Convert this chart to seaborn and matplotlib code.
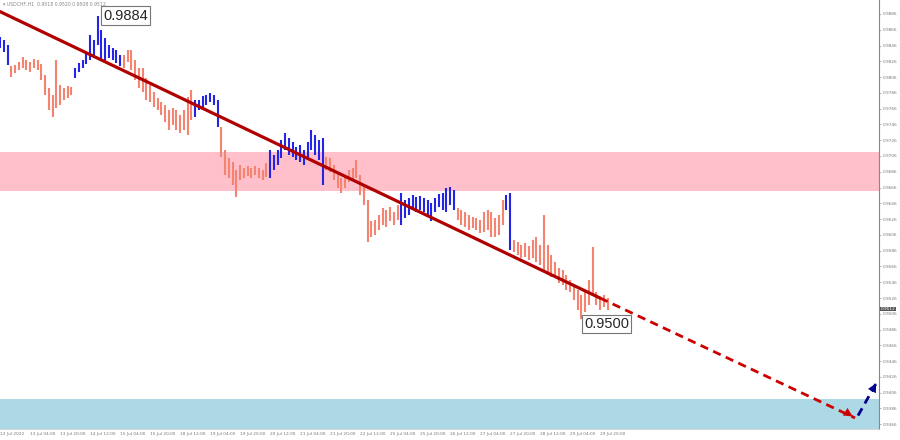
import matplotlib
matplotlib.use('Agg')
import matplotlib.pyplot as plt
import seaborn as sns
import numpy as np

# USDCHF H1, sampled every 2 bars (high / low of each sample)
HIGH = [0.9857, 0.9853, 0.9847, 0.9820, 0.9821, 0.9825, 0.9831, 0.9828, 0.9825, 0.9829,
        0.9828, 0.9823, 0.9809, 0.9792, 0.9783, 0.9828, 0.9796, 0.9792, 0.9795, 0.9793,
        0.9818, 0.9824, 0.9828, 0.9838, 0.9859, 0.9853, 0.9884, 0.9866, 0.9856, 0.9847,
        0.9843, 0.9840, 0.9834, 0.9834, 0.9840, 0.9840, 0.9828, 0.9818, 0.9818, 0.9805,
        0.9796, 0.9787, 0.9780, 0.9774, 0.9771, 0.9764, 0.9767, 0.9764, 0.9758, 0.9764,
        0.9781, 0.9790, 0.9777, 0.9777, 0.9782, 0.9783, 0.9786, 0.9783, 0.9777, 0.9743,
        0.9714, 0.9704, 0.9698, 0.9688, 0.9695, 0.9691, 0.9693, 0.9691, 0.9693, 0.9691,
        0.9688, 0.9697, 0.9714, 0.9707, 0.9714, 0.9726, 0.9735, 0.9729, 0.9724, 0.9717,
        0.9720, 0.9714, 0.9724, 0.9739, 0.9733, 0.9726, 0.9729, 0.9705, 0.9704, 0.9695,
        0.9686, 0.9678, 0.9682, 0.9688, 0.9691, 0.9701, 0.9682, 0.9669, 0.9650, 0.9623,
        0.9625, 0.9631, 0.9640, 0.9638, 0.9641, 0.9635, 0.9644, 0.9659, 0.9650, 0.9653,
        0.9657, 0.9654, 0.9655, 0.9653, 0.9650, 0.9646, 0.9653, 0.9658, 0.9659, 0.9666,
        0.9667, 0.9663, 0.9640, 0.9638, 0.9635, 0.9631, 0.9629, 0.9628, 0.9625, 0.9635,
        0.9638, 0.9635, 0.9628, 0.9631, 0.9650, 0.9657, 0.9659, 0.9600, 0.9597, 0.9593,
        0.9596, 0.9592, 0.9600, 0.9603, 0.9593, 0.9631, 0.9593, 0.9581, 0.9572, 0.9564,
        0.9561, 0.9555, 0.9549, 0.9543, 0.9536, 0.9530, 0.9536, 0.9549, 0.9591, 0.9534,
        0.9527, 0.9530, 0.9526]
LOW = [0.9843, 0.9838, 0.9821, 0.9806, 0.9811, 0.9815, 0.9818, 0.9815, 0.9812, 0.9818,
       0.9815, 0.9802, 0.9783, 0.9764, 0.9755, 0.9767, 0.9771, 0.9777, 0.9780, 0.9783,
       0.9805, 0.9812, 0.9818, 0.9823, 0.9828, 0.9834, 0.9847, 0.9828, 0.9825, 0.9830,
       0.9828, 0.9824, 0.9820, 0.9818, 0.9825, 0.9815, 0.9802, 0.9792, 0.9787, 0.9777,
       0.9774, 0.9768, 0.9764, 0.9758, 0.9749, 0.9739, 0.9745, 0.9739, 0.9735, 0.9739,
       0.9733, 0.9752, 0.9755, 0.9764, 0.9768, 0.9771, 0.9774, 0.9771, 0.9743, 0.9705,
       0.9682, 0.9678, 0.9669, 0.9654, 0.9676, 0.9678, 0.9681, 0.9678, 0.9682, 0.9678,
       0.9676, 0.9680, 0.9678, 0.9688, 0.9695, 0.9704, 0.9714, 0.9707, 0.9705, 0.9701,
       0.9698, 0.9695, 0.9701, 0.9714, 0.9707, 0.9701, 0.9669, 0.9688, 0.9686, 0.9676,
       0.9666, 0.9659, 0.9666, 0.9673, 0.9676, 0.9678, 0.9657, 0.9644, 0.9597, 0.9603,
       0.9606, 0.9612, 0.9619, 0.9616, 0.9623, 0.9619, 0.9625, 0.9619, 0.9628, 0.9631,
       0.9638, 0.9635, 0.9638, 0.9635, 0.9631, 0.9623, 0.9635, 0.9641, 0.9638, 0.9635,
       0.9644, 0.9638, 0.9625, 0.9619, 0.9616, 0.9612, 0.9615, 0.9612, 0.9608, 0.9610,
       0.9612, 0.9603, 0.9603, 0.9606, 0.9619, 0.9638, 0.9587, 0.9584, 0.9581, 0.9577,
       0.9578, 0.9574, 0.9577, 0.9572, 0.9568, 0.9561, 0.9555, 0.9553, 0.9551, 0.9545,
       0.9543, 0.9536, 0.9534, 0.9524, 0.9511, 0.9500, 0.9508, 0.9517, 0.9530, 0.9517,
       0.9511, 0.9514, 0.9511]
UP_WAVES = [(0, 2), (20, 32), (52, 58), (72, 86), (107, 121), (135, 136)]  # inclusive

TIME_LABELS = ['12 Jul 2022', '13 Jul 04:00', '13 Jul 20:00', '14 Jul 12:00', '15 Jul 04:00',
               '15 Jul 20:00', '18 Jul 12:00', '19 Jul 04:00', '19 Jul 20:00', '20 Jul 12:00',
               '21 Jul 04:00', '21 Jul 20:00', '22 Jul 12:00', '25 Jul 04:00', '25 Jul 20:00',
               '26 Jul 12:00', '27 Jul 04:00', '27 Jul 20:00', '28 Jul 12:00', '29 Jul 04:00',
               '29 Jul 20:00']
TICK_EVERY = 8  # samples per time label (16 hourly bars)

PRICE_MIN, PRICE_MAX = 0.9360, 0.99037
PRICE_TICKS = [0.9366 + 0.002 * k for k in range(27)]
RESISTANCE = (0.9662, 0.9711)
SUPPORT = (0.9360, 0.9398)

TREND_X = [0, 160]
TREND_Y = [0.9889, 0.9526]
FORECAST_X = [160, 228]
FORECAST_Y = [0.9526, 0.9374]
REBOUND_X = [228.8, 234]
REBOUND_Y = [0.9377, 0.9421]
PEAK = (26, 0.9884)
TROUGH = (155, 0.9500)
LAST_PRICE = 0.9512
HEADER = '\u25be USDCHF,H1  0.9518 0.9520 0.9508 0.9512'

BLUE = '#2424e6'
SALMON = '#f4846f'

sns.set_theme(style='white')
plt.rcParams['font.family'] = ['DejaVu Sans']

fig = plt.figure(figsize=(9, 4.4), dpi=100)
ax = fig.add_axes([0, 0.025, 0.9767, 0.975])

# zones
ax.axhspan(*RESISTANCE, color='#ffc0cb', lw=0, zorder=0)
ax.axhspan(*SUPPORT, color='#add8e6', lw=0, zorder=0)

# price bars coloured by wave direction
n = len(HIGH)
colors = [SALMON] * n
for a, b in UP_WAVES:
    for i in range(a, b + 1):
        colors[i] = BLUE
x = np.arange(n)
ax.vlines(x, LOW, HIGH, colors=colors, linewidth=1.5, zorder=2)

# trend line and forecast
sns.lineplot(x=TREND_X, y=TREND_Y, color='#b00000', linewidth=2.3, ax=ax, zorder=3)
ax.plot(FORECAST_X, FORECAST_Y, color='#cc0000', linewidth=2.0, linestyle=(0, (3, 2)), zorder=3)
ax.annotate('', xy=(FORECAST_X[1], FORECAST_Y[1]),
            xytext=(FORECAST_X[1] - 3, FORECAST_Y[1] + 0.0009),
            arrowprops=dict(arrowstyle='-|>', color='#cc0000', mutation_scale=16, lw=0), zorder=4)
ax.plot(REBOUND_X, REBOUND_Y, color='#00008b', linewidth=2.0, linestyle=(0, (3, 2)),
        zorder=3, clip_on=False)
ax.annotate('', xy=(REBOUND_X[1], REBOUND_Y[1]),
            xytext=(REBOUND_X[1] - 1.5, REBOUND_Y[1] - 0.0013),
            arrowprops=dict(arrowstyle='-|>', color='#00008b', mutation_scale=16, lw=0),
            zorder=4, annotation_clip=False)

# price labels
box = dict(boxstyle='square,pad=0.15', fc='white', ec='#777777', lw=0.8)
ax.annotate(f'{PEAK[1]:.4f}', xy=PEAK, xytext=(4, 0), textcoords='offset points',
            fontsize=10.5, family='Liberation Sans', va='center', ha='left', bbox=box, zorder=5)
ax.annotate(f'{TROUGH[1]:.4f}', xy=TROUGH, xytext=(2, -4), textcoords='offset points',
            fontsize=10.5, family='Liberation Sans', va='center', ha='left', bbox=box, zorder=5)

ax.text(0.003, 0.995, HEADER, transform=ax.transAxes, fontsize=3.3, color='#888888',
        va='top', ha='left')

ax.set_xlim(0, 234.4)
ax.set_ylim(PRICE_MIN, PRICE_MAX)

ax.set_xticks(np.arange(len(TIME_LABELS)) * TICK_EVERY)
ax.set_xticklabels(TIME_LABELS, fontsize=3.1, color='#777777', ha='left')
ax.yaxis.tick_right()
ax.set_yticks(PRICE_TICKS)
ax.set_yticklabels([f'{p:.4f}' for p in PRICE_TICKS], fontsize=3.1, color='#777777')
ax.tick_params(axis='both', length=1.5, width=0.5, colors='#999999', pad=1)
ax.tick_params(axis='x', labelcolor='#777777')
ax.tick_params(axis='y', labelcolor='#777777')

ax.text(1.002, (LAST_PRICE - PRICE_MIN) / (PRICE_MAX - PRICE_MIN), f'{LAST_PRICE:.4f}',
        transform=ax.transAxes, fontsize=3.1, color='white', va='center', ha='left',
        bbox=dict(boxstyle='square,pad=0.1', fc='#555555', ec='none'))

for s in ['top', 'left']:
    ax.spines[s].set_visible(False)
ax.spines['right'].set_color('#888888')
ax.spines['bottom'].set_color('#cccccc')
ax.spines['right'].set_linewidth(0.8)
ax.spines['bottom'].set_linewidth(0.6)

fig.savefig('out.png', dpi=100)
